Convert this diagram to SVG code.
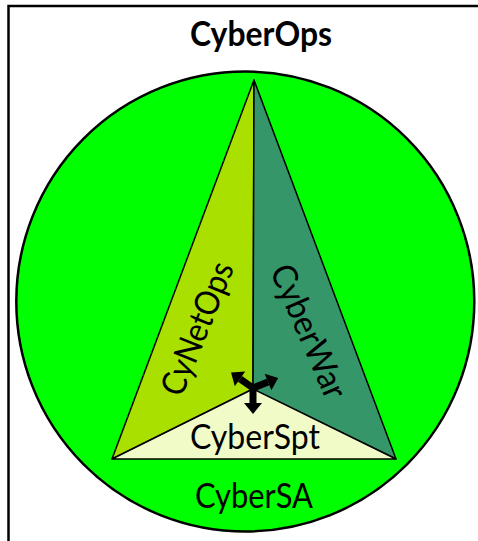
<svg xmlns="http://www.w3.org/2000/svg" width="478" height="541" viewBox="0 0 478 541">
  <style>
    .lbl { font-family: Lato, "Liberation Sans", sans-serif; fill: #000; text-anchor: middle; }
    .reg { font-size: 34px; font-weight: 400; }
    .bold { font-size: 34px; font-weight: 700; }
    .edge { stroke: #000; stroke-width: 1.5; stroke-linejoin: round; }
    .arrow { stroke: #000; stroke-width: 7; fill: none; marker-end: url(#head); }
  </style>
  <defs>
    <marker id="head" markerUnits="userSpaceOnUse" refX="0" refY="0" markerWidth="12" markerHeight="18" orient="auto" overflow="visible">
      <path d="M0,-9 L11,0 L0,9 Z" fill="#000"/>
    </marker>
  </defs>

  <!-- outer frame -->
  <g id="frame">
    <rect x="8.5" y="6" width="485" height="550" fill="#fff" stroke="#000" stroke-width="2.5"/>
  </g>

  <g id="cyberops-title">
    <text class="lbl bold" x="261" y="46" textLength="142" lengthAdjust="spacingAndGlyphs">CyberOps</text>
  </g>

  <!-- situational awareness circle -->
  <g id="cybersa">
    <ellipse cx="245.3" cy="301.5" rx="229" ry="230" fill="#00ff00" stroke="#000" stroke-width="2.5"/>
    <text class="lbl reg" x="254" y="508" textLength="118" lengthAdjust="spacingAndGlyphs">CyberSA</text>
  </g>

  <!-- left wedge -->
  <g id="cynetops">
    <polygon class="edge" points="254,80 253,389 112,459" fill="#a9e000"/>
    <text class="lbl reg" transform="translate(208,333) rotate(-68)" x="0" y="0" textLength="141" lengthAdjust="spacingAndGlyphs">CyNetOps</text>
  </g>

  <!-- right wedge -->
  <g id="cyberwar">
    <polygon class="edge" points="254,80 396,459 253,389" fill="#35966a"/>
    <text class="lbl reg" transform="translate(298,336) rotate(66.5)" x="0" y="0" textLength="143" lengthAdjust="spacingAndGlyphs">CyberWar</text>
  </g>

  <!-- bottom wedge -->
  <g id="cyberspt">
    <polygon class="edge" points="112,459 253,389 396,459" fill="#f0fbc8"/>
    <text class="lbl reg" x="255" y="449" textLength="130" lengthAdjust="spacingAndGlyphs">CyberSpt</text>
  </g>

  <!-- arrows radiating from the centre junction -->
  <g id="connectors">
    <line class="arrow" x1="253" y1="388" x2="253" y2="403"/>
    <line class="arrow" x1="253" y1="388" x2="240" y2="378.8"/>
    <line class="arrow" x1="253" y1="388" x2="268" y2="382"/>
  </g>
</svg>
